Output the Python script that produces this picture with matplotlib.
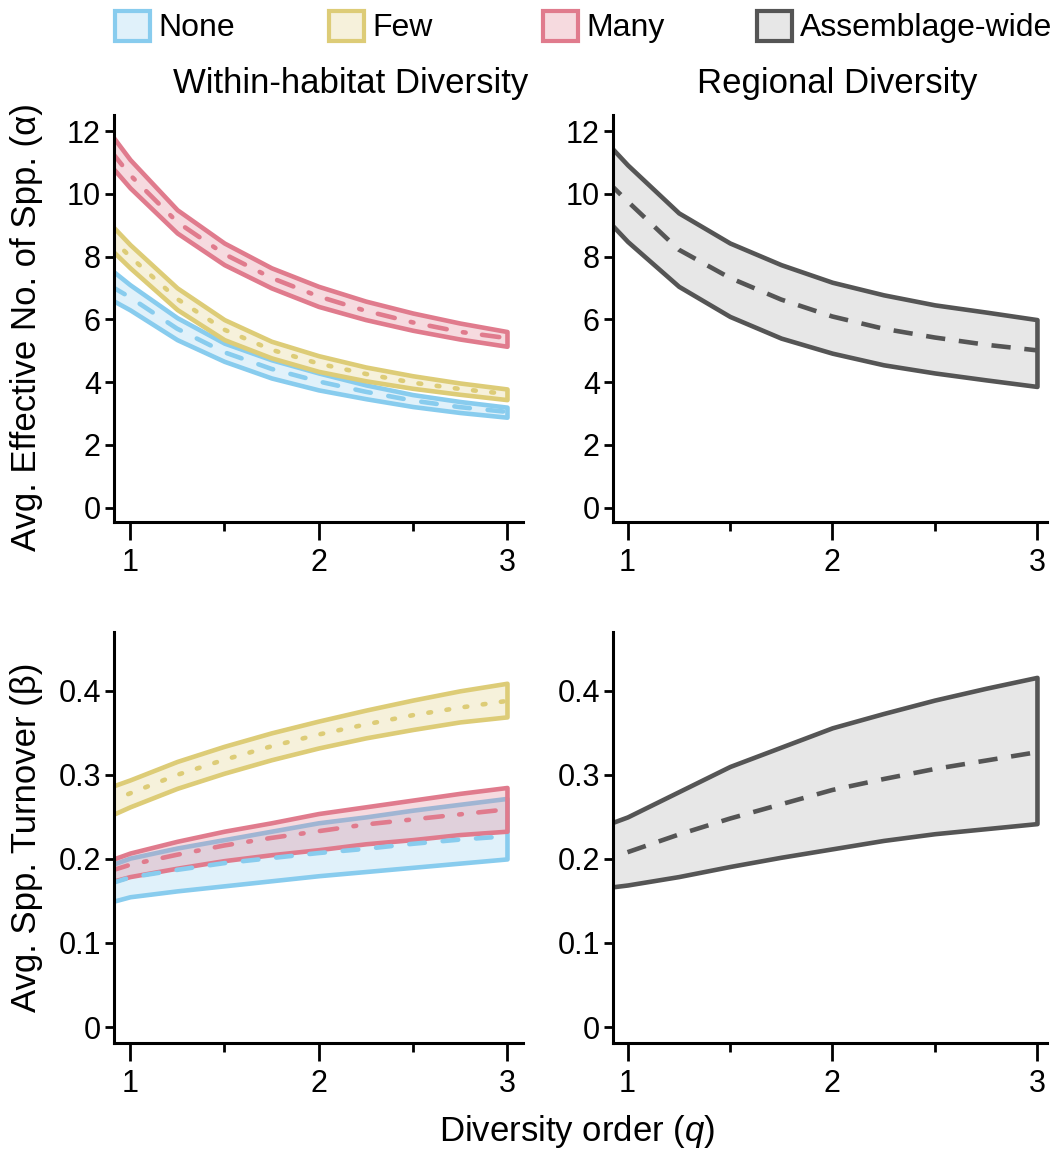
import numpy as np
import matplotlib
matplotlib.use('Agg')
import matplotlib.pyplot as plt
from matplotlib.colors import to_rgba
from matplotlib.patches import Patch

plt.rcParams['font.family'] = ['Liberation Sans', 'DejaVu Sans']
plt.rcParams['mathtext.fontset'] = 'custom'
plt.rcParams['mathtext.it'] = 'Liberation Sans:italic'
plt.rcParams['mathtext.rm'] = 'Liberation Sans'

# diversity order
q = np.array([0.9, 1, 1.25, 1.5, 1.75, 2, 2.25, 2.5, 2.75, 3])

# alpha diversity, within-habitat (lower / upper / mean)
none_a_lo = [6.63, 6.30, 5.35, 4.66, 4.13, 3.75, 3.47, 3.22, 3.03, 2.88]
none_a_hi = [7.58, 7.10, 6.05, 5.24, 4.71, 4.29, 3.91, 3.60, 3.38, 3.20]
none_a_mid = [7.05, 6.70, 5.70, 4.95, 4.42, 4.02, 3.69, 3.41, 3.20, 3.05]
few_a_lo = [8.22, 7.64, 6.31, 5.35, 4.77, 4.34, 4.04, 3.80, 3.61, 3.44]
few_a_hi = [9.01, 8.38, 7.00, 5.99, 5.30, 4.84, 4.48, 4.20, 3.97, 3.78]
few_a_mid = [8.59, 8.00, 6.65, 5.67, 5.03, 4.59, 4.26, 3.98, 3.78, 3.62]
many_a_lo = [10.88, 10.19, 8.75, 7.74, 7.00, 6.41, 5.99, 5.65, 5.37, 5.14]
many_a_hi = [11.89, 11.09, 9.49, 8.43, 7.64, 7.05, 6.58, 6.20, 5.88, 5.61]
many_a_mid = [11.35, 10.60, 9.10, 8.08, 7.32, 6.73, 6.27, 5.90, 5.60, 5.40]

# alpha diversity, regional
reg_a_lo = [9.17, 8.48, 7.05, 6.09, 5.40, 4.92, 4.55, 4.29, 4.07, 3.86]
reg_a_hi = [11.62, 10.92, 9.39, 8.43, 7.74, 7.18, 6.78, 6.46, 6.23, 5.99]
reg_a_mid = [10.40, 9.76, 8.22, 7.32, 6.63, 6.09, 5.70, 5.42, 5.19, 5.01]

# beta (turnover), within-habitat
none_b_lo = [0.149, 0.155, 0.162, 0.168, 0.174, 0.180, 0.185, 0.190, 0.195, 0.200]
none_b_hi = [0.193, 0.201, 0.213, 0.223, 0.233, 0.243, 0.250, 0.258, 0.265, 0.272]
none_b_mid = [0.171, 0.178, 0.187, 0.195, 0.201, 0.207, 0.212, 0.218, 0.223, 0.227]
few_b_lo = [0.252, 0.262, 0.284, 0.302, 0.318, 0.332, 0.344, 0.354, 0.363, 0.369]
few_b_hi = [0.286, 0.294, 0.316, 0.334, 0.350, 0.364, 0.377, 0.389, 0.400, 0.409]
few_b_mid = [0.269, 0.278, 0.300, 0.318, 0.334, 0.348, 0.360, 0.371, 0.380, 0.388]
many_b_lo = [0.173, 0.179, 0.189, 0.198, 0.205, 0.211, 0.218, 0.223, 0.229, 0.233]
many_b_hi = [0.199, 0.207, 0.221, 0.233, 0.243, 0.254, 0.262, 0.270, 0.278, 0.285]
many_b_mid = [0.186, 0.193, 0.205, 0.216, 0.225, 0.233, 0.241, 0.247, 0.253, 0.259]

# beta, regional (mean only from q = 1)
reg_b_lo = [0.166, 0.169, 0.179, 0.191, 0.202, 0.212, 0.222, 0.230, 0.236, 0.242]
reg_b_hi = [0.241, 0.250, 0.280, 0.310, 0.333, 0.356, 0.373, 0.389, 0.403, 0.416]
reg_b_mid = [np.nan, 0.208, 0.229, 0.248, 0.265, 0.282, 0.295, 0.307, 0.317, 0.327]

labels = ['None', 'Few', 'Many', 'Assemblage-wide']
colors = ['#88CCEE', '#DDCC77', '#E07B8D', '#555555']
styles = [((0, (3.4, 3.9)), 'round'),
          ((0, (0.6, 3.4)), 'round'),
          ((0, (3.8, 3.6, 0.6, 3.6)), 'round'),
          ((0, (4.2, 3.0)), 'butt')]
fill_alpha = [0.26, 0.26, 0.28, 0.14]

W, H = 1058, 1152
fig = plt.figure(figsize=(W / 100, H / 100), dpi=100)


def px_axes(l, t, r, b):
    return fig.add_axes([l / W, 1 - b / H, (r - l) / W, (b - t) / H])


ax_tl = px_axes(114, 115, 523, 522)
ax_tr = px_axes(613, 115, 1047, 522)
ax_bl = px_axes(114, 632, 523, 1043)
ax_br = px_axes(613, 632, 1047, 1043)


def band(ax, lo, hi, mid, i):
    c = colors[i]
    ls, cap = styles[i]
    ax.fill_between(q, lo, hi, facecolor=to_rgba(c, fill_alpha[i]),
                    edgecolor=c, linewidth=3.3, joinstyle='round')
    ax.plot(q, mid, color=c, lw=3.3, ls=ls, dash_capstyle=cap)


band(ax_tl, none_a_lo, none_a_hi, none_a_mid, 0)
band(ax_tl, few_a_lo, few_a_hi, few_a_mid, 1)
band(ax_tl, many_a_lo, many_a_hi, many_a_mid, 2)
band(ax_tr, reg_a_lo, reg_a_hi, reg_a_mid, 3)

band(ax_bl, none_b_lo, none_b_hi, none_b_mid, 0)
band(ax_bl, few_b_lo, few_b_hi, few_b_mid, 1)
band(ax_bl, many_b_lo, many_b_hi, many_b_mid, 2)
band(ax_br, reg_b_lo, reg_b_hi, reg_b_mid, 3)

for ax in [ax_tl, ax_tr, ax_bl, ax_br]:
    for s in ['top', 'right']:
        ax.spines[s].set_visible(False)
    for s in ['left', 'bottom']:
        ax.spines[s].set_linewidth(2.2)
    ax.set_xticks([1, 2, 3])
    ax.set_xticks([1.5, 2.5], minor=True)
    ax.tick_params(axis='y', length=6.5, width=2, labelsize=22, pad=3)
    ax.tick_params(axis='x', which='major', length=13, width=2, labelsize=22, pad=6)
    ax.tick_params(axis='x', which='minor', length=6.5, width=2)

for ax in [ax_tl, ax_bl]:
    ax.set_xlim(0.915, 3.085)
for ax in [ax_tr, ax_br]:
    ax.set_xlim(0.929, 3.049)

for ax in [ax_tl, ax_tr]:
    ax.set_ylim(-0.46, 12.51)
    ax.set_yticks([0, 2, 4, 6, 8, 10, 12])
for ax in [ax_bl, ax_br]:
    ax.set_ylim(-0.019, 0.47)
    ax.set_yticks([0, 0.1, 0.2, 0.3, 0.4])
    ax.set_yticklabels(['0', '0.1', '0.2', '0.3', '0.4'])

ax_tl.set_ylabel('Avg. Effective No. of Spp. (α)', fontsize=25, va='center')
ax_tl.yaxis.set_label_coords(-0.215, 0.48)
ax_bl.set_ylabel('Avg. Spp. Turnover (β)', fontsize=25, va='center')
ax_bl.yaxis.set_label_coords(-0.215, 0.5)

fig.text(351 / W, 1 - 84 / H, 'Within-habitat Diversity', fontsize=25,
         ha='center', va='center')
fig.text(837 / W, 1 - 84 / H, 'Regional Diversity', fontsize=25,
         ha='center', va='center')
fig.text(577 / W, 1 - 1132 / H, 'Diversity order ($q$)', fontsize=25,
         ha='center', va='center')

# legend keys, evenly spaced across the top
key_x = [115, 329, 543, 757]
for i, lab in enumerate(labels):
    h = Patch(facecolor=to_rgba(colors[i], fill_alpha[i]), edgecolor=colors[i],
              linewidth=3.0)
    fig.legend(handles=[h], labels=[lab], loc='center left',
               bbox_to_anchor=(key_x[i] / W, 1 - 27 / H), frameon=False,
               fontsize=23, borderpad=0, borderaxespad=0,
               handlelength=1.1, handleheight=1.07, handletextpad=0.25)

fig.savefig('out.png', dpi=100)
